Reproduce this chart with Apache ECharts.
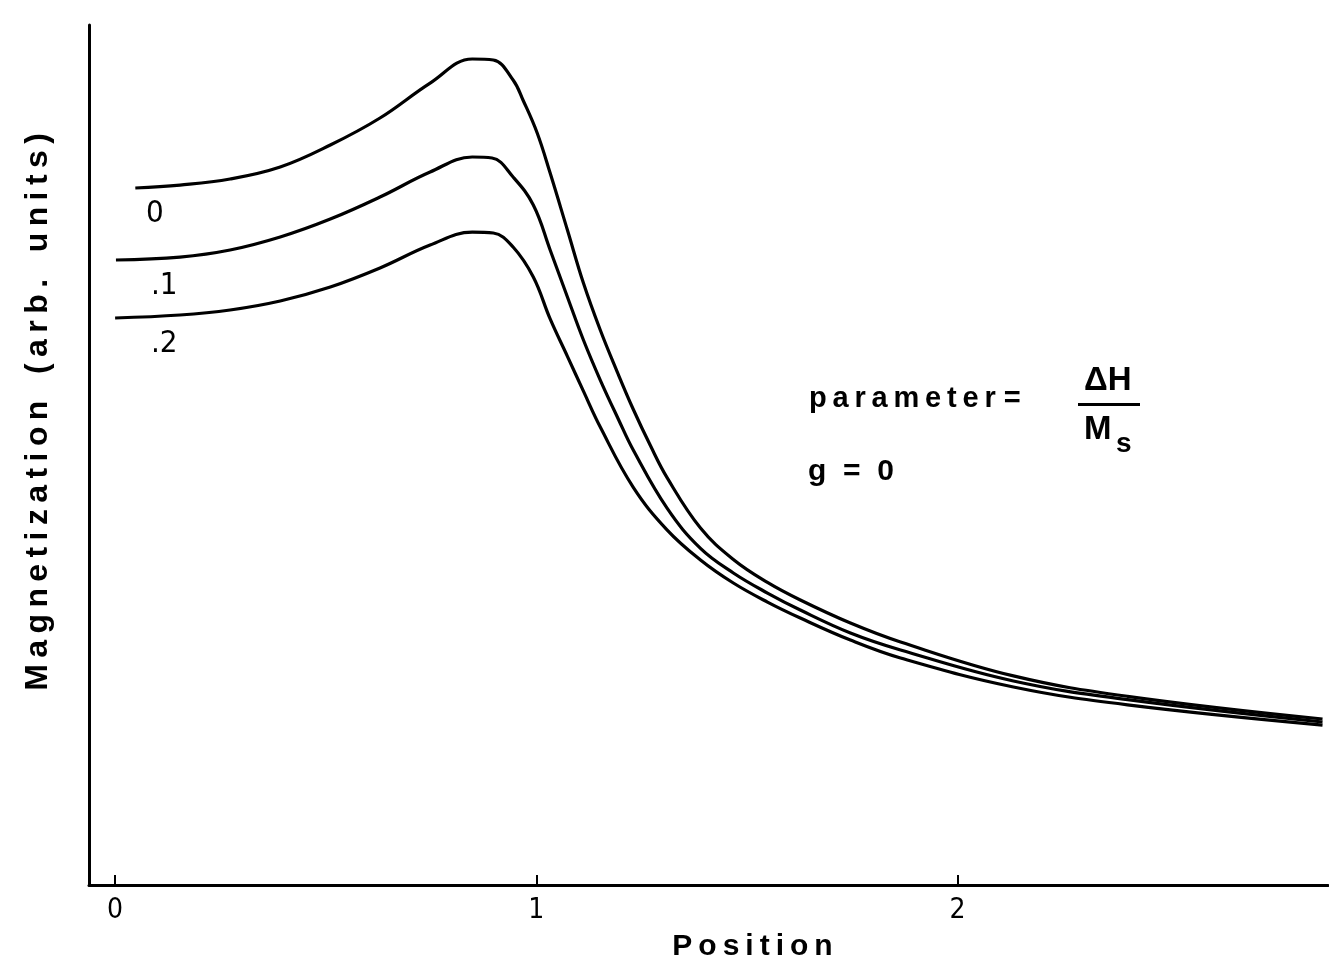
<!DOCTYPE html>
<html>
<head>
<meta charset="utf-8">
<script src="https://cdn.jsdelivr.net/npm/echarts@6/dist/echarts.min.js"></script>
<style>
html,body{margin:0;padding:0;background:#fff;}
#chart{width:1329px;height:968px;}
</style>
</head>
<body>
<div id="chart"></div>
<script>
// Position values (x) and magnetization (arb. units, y)
const pos0 = [0.048,0.154,0.273,0.392,0.511,0.629,0.748,0.848,0.898,0.945,0.969,1.002,1.033,1.074,1.112,1.152,1.192,1.230,1.271,1.311,1.390,1.468,1.549,1.627,1.746,1.865,2.133,2.404,2.867];
const mag0 = [82.0,82.35,83.06,84.47,87.06,90.24,94.35,97.18,97.06,94.71,92.3,88.5,83.76,77.06,70.82,65.29,60.4,56.0,51.7,47.9,42.0,38.3,35.6,33.53,30.82,28.59,24.6,22.2,19.53];

const pos1 = [0.002,0.154,0.273,0.392,0.511,0.629,0.748,0.848,0.895,0.945,0.993,1.033,1.074,1.112,1.152,1.195,1.230,1.311,1.390,1.468,1.549,1.627,1.746,1.865,2.133,2.404,2.867];
const mag1 = [73.53,73.88,74.71,76.24,78.35,80.94,83.88,85.65,85.53,83.29,80.0,74.71,69.18,64.12,59.41,54.8,51.2,44.3,39.6,36.71,34.35,32.35,29.65,27.65,24.0,21.8,19.18];

const pos2 = [0.0,0.154,0.273,0.392,0.511,0.629,0.748,0.848,0.898,0.945,0.993,1.033,1.074,1.112,1.152,1.230,1.311,1.390,1.468,1.549,1.627,1.746,1.865,2.133,2.404,2.867];
const mag2 = [66.71,67.06,67.65,68.71,70.35,72.59,75.29,76.82,76.71,75.06,71.53,66.6,62.2,58.1,53.88,46.82,41.76,38.24,35.53,33.29,31.41,28.82,26.71,23.3,21.2,18.82];

const seriesNames = ['0', '.1', '.2'];
const xTicks = [0, 1, 2];

function zip(xs, ys){ return xs.map((x,i)=>[x, ys[i]]); }
function spaced(s){ return s.split(' ').map(w => w.split('').join('\u2009')).join('   '); }

const chart = echarts.init(document.getElementById('chart'), null, {renderer:'canvas'});
const lineStyle = {color:'#000', width:3.2};
const FONT = '"Liberation Sans", Arial, Helvetica, sans-serif';
const NARROW = '"Liberation Sans Narrow", "DejaVu Sans Condensed", "Liberation Sans", sans-serif';

chart.setOption({
  backgroundColor:'#fff',
  animation:false,
  grid:{left:89, right:1, top:25, bottom:83},
  xAxis:{
    type:'value', min:-0.062, max:2.88,
    name:spaced('Position'), nameLocation:'middle', nameGap:47,
    nameTextStyle:{fontFamily:FONT, fontSize:30, fontWeight:'bold', color:'#000', padding:[0,0,0,88]},
    axisLine:{show:true, onZero:false, lineStyle:{color:'#000', width:3}},
    axisTick:{show:true, inside:true, length:10, customValues:xTicks, lineStyle:{color:'#000', width:2}},
    axisLabel:{show:true, customValues:xTicks, margin:12, fontFamily:NARROW, fontSize:28, color:'#000'},
    splitLine:{show:false}
  },
  yAxis:{
    type:'value', min:0, max:101.18,
    name:spaced('Magnetization (arb. units)'), nameLocation:'middle', nameGap:35, nameRotate:90,
    nameTextStyle:{fontFamily:FONT, fontSize:32, fontWeight:'bold', color:'#000', padding:[0,0,0,86]},
    axisLine:{show:true, onZero:false, lineStyle:{color:'#000', width:3}},
    axisTick:{show:false}, axisLabel:{show:false}, splitLine:{show:false}
  },
  series:[
    {name:seriesNames[0], type:'line', data:zip(pos0,mag0), smooth:0.4, showSymbol:false, lineStyle:lineStyle},
    {name:seriesNames[1], type:'line', data:zip(pos1,mag1), smooth:0.4, showSymbol:false, lineStyle:lineStyle},
    {name:seriesNames[2], type:'line', data:zip(pos2,mag2), smooth:0.4, showSymbol:false, lineStyle:lineStyle}
  ],
  graphic:[
    {type:'text', left:146, top:198, style:{text:seriesNames[0], font:'31px '+NARROW, fill:'#000'}},
    {type:'text', left:151, top:270, style:{text:seriesNames[1], font:'31px '+NARROW, fill:'#000'}},
    {type:'text', left:151, top:328, style:{text:seriesNames[2], font:'31px '+NARROW, fill:'#000'}},
    {type:'text', left:809, top:384, style:{text:spaced('parameter') + ' =', font:'bold 29px '+FONT, fill:'#000'}},
    {type:'text', left:1084, top:364, style:{text:'\u0394H', font:'bold 33px '+FONT, fill:'#000'}},
    {type:'rect', shape:{x:1078, y:403, width:62, height:3}, style:{fill:'#000'}},
    {type:'text', left:1084, top:413, style:{text:'M', font:'bold 33px '+FONT, fill:'#000'}},
    {type:'text', left:1116, top:430, style:{text:'s', font:'bold 28px '+FONT, fill:'#000'}},
    {type:'text', left:808, top:457, style:{text:'g  =  0', font:'bold 30px '+FONT, fill:'#000'}}
  ]
});
</script>
</body>
</html>
